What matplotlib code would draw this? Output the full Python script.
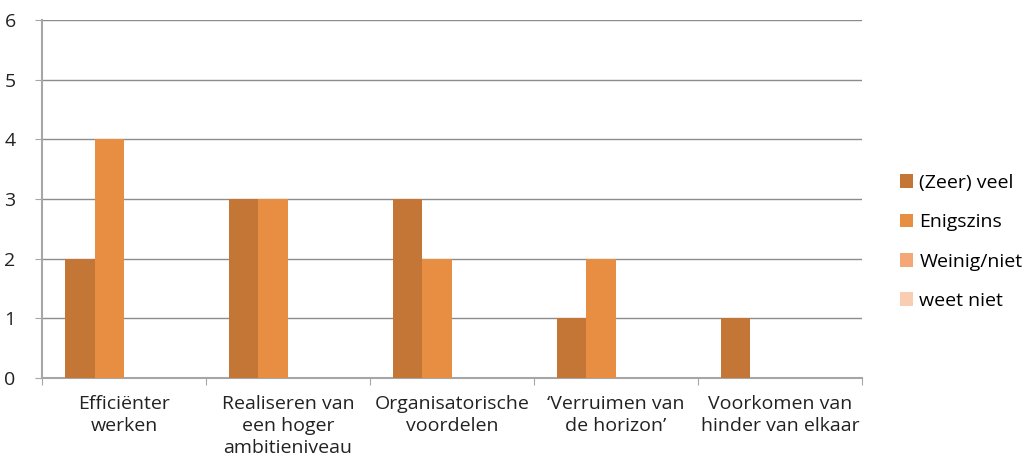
import numpy as np
import matplotlib.pyplot as plt

categories = ["Efficiënter\nwerken", "Realiseren van\neen hoger\nambitieniveau",
              "Organisatorische\nvoordelen", "\u2018Verruimen van\nde horizon\u2019",
              "Voorkomen van\nhinder van elkaar"]
series = ["(Zeer) veel", "Enigszins", "Weinig/niet", "weet niet"]
zeer_veel = [2, 3, 3, 1, 1]
enigszins = [4, 3, 2, 2, 0]
weinig = [0, 0, 0, 0, 0]
weet_niet = [0, 0, 0, 0, 0]
colors = ["#C47637", "#E88E42", "#F4A878", "#F9CDB2"]

plt.rcParams['font.family'] = ['Open Sans', 'DejaVu Sans']
fig = plt.figure(figsize=(10.26, 4.63), dpi=100)
ax = fig.add_axes([0.041, 0.1836, 0.799, 0.7734])

x = np.arange(len(categories))
w = 0.18
for i, (vals, lab) in enumerate(zip([zeer_veel, enigszins, weinig, weet_niet], series)):
    ax.bar(x + (i - 1.5) * w, vals, w, color=colors[i], label=lab, zorder=3)

ax.set_xlim(-0.5, len(categories) - 0.5)
ax.set_ylim(0, 6)
ax.set_yticks(range(7))
ax.yaxis.grid(True, color="#8c8c8c", linewidth=1)
ax.set_axisbelow(True)
for s in ["top", "right"]:
    ax.spines[s].set_visible(False)
ax.spines["left"].set_color("#a6a6a6")
ax.spines["bottom"].set_color("#a6a6a6")
ax.spines["left"].set_linewidth(1.5)
ax.spines["bottom"].set_linewidth(1.5)

ax.set_xticks(np.arange(len(categories) + 1) - 0.5, minor=False)
ax.set_xticklabels([])
ax.tick_params(axis="x", direction="out", length=5, color="#a6a6a6")
ax.set_xticks(x, minor=True)
ax.set_xticklabels(categories, minor=True, fontsize=14, color="#222222", linespacing=1.3)
ax.tick_params(axis="x", which="minor", length=0, pad=12)
ax.tick_params(axis="y", direction="out", length=5, color="#a6a6a6", labelsize=14,
               labelcolor="#222222", pad=14)

ax.legend(loc="center left", bbox_to_anchor=(1.025, 0.38), frameon=False, fontsize=14,
          handlelength=0.7, handleheight=0.7, labelspacing=1.1, handletextpad=0.3)

fig.savefig("out.png", dpi=100)
